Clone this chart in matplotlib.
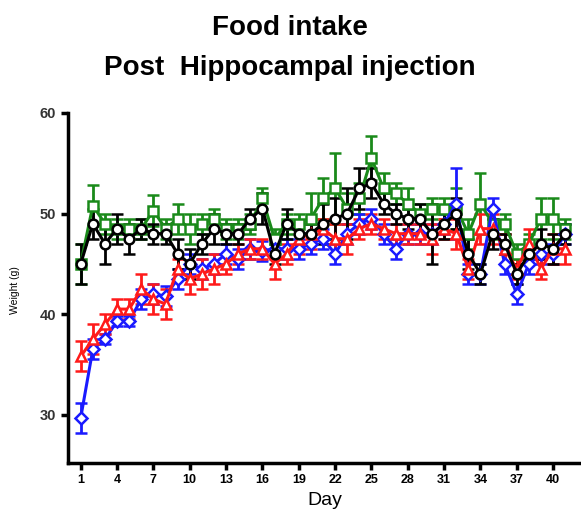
import numpy as np
import matplotlib
matplotlib.use("Agg")
import matplotlib.pyplot as plt

plt.rcParams['font.family'] = ['Liberation Sans', 'DejaVu Sans']

days = np.arange(1, 42)

# mean weight per group (g)
green = [45.0, 50.8, 49.0, 48.5, 48.5, 48.5, 50.3, 48.5, 49.5, 48.5,
         49.0, 49.5, 48.5, 48.5, 49.0, 51.5, 47.5, 49.0, 49.0, 49.5,
         51.5, 52.5, 50.5, 51.5, 55.5, 52.5, 52.0, 51.0, 50.0, 50.5,
         50.5, 50.5, 48.0, 51.0, 49.0, 49.0, 46.0, 47.0, 49.5, 49.5, 48.5]
green_err = [2.0, 2.0, 1.0, 1.0, 1.0, 1.0, 1.5, 1.0, 1.5, 1.5,
             1.0, 1.0, 1.0, 1.0, 1.0, 1.0, 1.0, 1.0, 1.0, 2.5,
             2.0, 3.5, 1.5, 1.5, 2.2, 1.5, 1.0, 1.5, 1.0, 1.0,
             1.0, 2.0, 1.5, 3.0, 1.5, 1.0, 1.0, 1.0, 2.0, 2.0, 1.0]

black = [45.0, 49.0, 47.0, 48.5, 47.5, 48.5, 48.0, 48.0, 46.0, 45.0,
         47.0, 48.5, 48.0, 48.0, 49.5, 50.5, 46.0, 49.0, 48.0, 48.0,
         49.0, 49.5, 50.0, 52.5, 53.0, 51.0, 50.0, 49.5, 49.5, 48.0,
         49.0, 50.0, 46.0, 44.0, 48.0, 47.0, 44.0, 46.0, 47.0, 46.5, 48.0]
black_err = [2.0, 1.5, 2.0, 1.5, 1.5, 1.0, 1.0, 1.0, 1.5, 1.5,
             1.0, 1.5, 1.0, 1.0, 1.0, 1.5, 1.0, 1.5, 1.0, 1.0,
             2.0, 2.0, 2.5, 2.0, 1.5, 1.0, 1.0, 1.0, 1.5, 3.0,
             1.5, 1.5, 1.5, 1.0, 1.5, 1.0, 1.0, 1.0, 1.5, 1.5, 1.0]

red = [35.8, 37.5, 39.0, 40.5, 40.5, 42.5, 41.5, 41.0, 44.5, 43.5,
       44.0, 44.5, 45.0, 46.0, 46.5, 46.5, 45.0, 46.0, 47.5, 48.0,
       48.5, 47.5, 47.5, 48.5, 49.0, 48.5, 48.0, 48.0, 48.0, 47.5,
       48.5, 48.0, 44.5, 48.5, 48.5, 46.5, 44.5, 47.0, 44.5, 46.5, 46.5]
red_err = [1.5, 1.5, 1.0, 1.0, 1.0, 1.5, 1.5, 1.5, 1.0, 1.5,
           1.5, 1.5, 1.0, 1.0, 1.0, 1.0, 1.5, 1.0, 1.5, 1.5,
           1.0, 1.5, 1.5, 1.0, 1.0, 1.0, 1.0, 1.0, 1.0, 1.5,
           1.0, 1.5, 1.0, 1.5, 1.5, 1.5, 1.0, 1.5, 1.0, 1.5, 1.5]

blue = [29.7, 36.5, 37.5, 39.3, 39.3, 41.5, 42.0, 41.8, 43.5, 45.0,
        44.5, 45.0, 46.0, 45.5, 46.5, 46.3, 46.5, 46.5, 46.5, 47.0,
        47.5, 46.0, 48.0, 49.0, 49.5, 48.0, 46.5, 48.0, 48.0, 48.0,
        49.0, 51.0, 44.0, 44.0, 50.5, 45.0, 42.0, 45.0, 46.0, 46.0, 48.0]
blue_err = [1.5, 1.0, 0.5, 0.5, 0.5, 1.0, 1.0, 1.0, 1.0, 1.0,
            1.0, 1.0, 1.0, 1.0, 1.0, 1.0, 1.0, 1.0, 1.0, 1.0,
            1.0, 1.0, 1.0, 1.0, 1.0, 1.0, 1.0, 1.0, 1.0, 1.0,
            1.0, 3.5, 1.0, 1.0, 1.0, 1.0, 1.0, 1.0, 1.0, 1.0, 1.0]

groups = [
    (green, green_err, '#1a8a1a', 's'),
    (blue, blue_err, '#1a1aff', 'D'),
    (red, red_err, '#ff1a1a', '^'),
    (black, black_err, 'black', 'o'),
]

fig = plt.figure(figsize=(5.81, 5.26), dpi=100)
ax = fig.add_axes([68 / 581, 1 - 463 / 526, 1 - 68 / 581, (463 - 113) / 526])

for vals, errs, col, mk in groups:
    ms = 6 if mk == 'D' else 7
    ax.errorbar(days, vals, yerr=errs, color=col, marker=mk, ms=ms,
                mfc='white', mec=col, mew=1.8, lw=2.2,
                elinewidth=2.0, capsize=4.5, capthick=2.0)

ax.set_xlim(-0.05, 42.3)
ax.set_ylim(25.2, 60)
ax.set_yticks([30, 40, 50, 60])
ax.set_xticks(np.arange(1, 41, 3))

for s in ['top', 'right']:
    ax.spines[s].set_visible(False)
for s in ['left', 'bottom']:
    ax.spines[s].set_linewidth(2.5)

ax.tick_params(axis='both', width=2.5, length=5, direction='out')
ax.tick_params(axis='x', labelsize=9, pad=3)
ax.tick_params(axis='y', labelsize=10.5, labelcolor='#333333')
for lab in ax.get_xticklabels() + ax.get_yticklabels():
    lab.set_fontweight('bold')

ax.set_xlabel('Day', fontsize=14, labelpad=4)
fig.text(15 / 581, 1 - 290 / 526, 'Weight (g)', rotation=90, fontsize=7.5,
         ha='center', va='center')

fig.text(290 / 581, 1 - 35 / 526, 'Food intake', fontsize=20, fontweight='bold',
         ha='center', va='baseline')
fig.text(290 / 581, 1 - 75 / 526, 'Post  Hippocampal injection', fontsize=20,
         fontweight='bold', ha='center', va='baseline')

fig.savefig('out.png', dpi=100)
